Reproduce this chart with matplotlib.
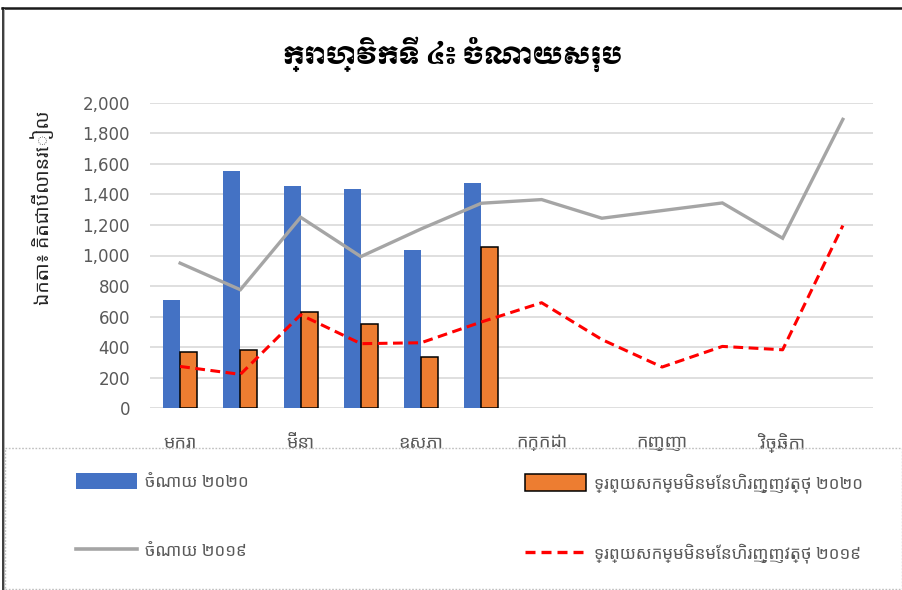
import matplotlib
matplotlib.use("Agg")
import matplotlib.pyplot as plt
from matplotlib import font_manager as fm
from matplotlib.font_manager import FontProperties
from matplotlib.lines import Line2D
from matplotlib.patches import Patch, Rectangle
import numpy as np

# ---------------- data ----------------
months = ["មករា", "កុម្ភៈ", "មីនា", "មេសា", "ឧសភា", "មិថុនា",
          "កក្កដា", "សីហា", "កញ្ញា", "តុលា", "វិច្ឆិកា", "ធ្នូ"]
exp_2020 = [710, 1555, 1455, 1435, 1035, 1475]
nfa_2020 = [367, 380, 630, 553, 333, 1057]
exp_2019 = [950, 776, 1250, 993, 1174, 1342, 1366, 1244, 1294, 1344, 1113, 1891]
nfa_2019 = [274, 222, 612, 423, 429, 565, 691, 450, 270, 405, 383, 1196]
y_ticks = [0, 200, 400, 600, 800, 1000, 1200, 1400, 1600, 1800, 2000]

title = "ក្រាហ្វិកទី ៤៖ ចំណាយសរុប"
y_label = "ឯកតា៖ គិតជាប៊ីលានរៀល"
lbl_exp2020 = "ចំណាយ ២០២០"
lbl_nfa2020 = "ទ្រព្យសកម្មមិនមែនហិរញ្ញវត្ថុ ២០២០"
lbl_exp2019 = "ចំណាយ ២០១៩"
lbl_nfa2019 = "ទ្រព្យសកម្មមិនមែនហិរញ្ញវត្ថុ ២០១៩"


# ---------------- fonts with Khmer glyphs, if any ----------------
def khmer_fonts():
    try:
        from fontTools.ttLib import TTFont
    except Exception:
        return []
    found = []
    for f in fm.fontManager.ttflist:
        try:
            kw = {"fontNumber": 0} if f.fname.lower().endswith(".ttc") else {}
            tt = TTFont(f.fname, lazy=True, **kw)
            cmap = tt.getBestCmap()
            if cmap and 0x1780 in cmap and 0x17D2 in cmap:
                found.append(f)
        except Exception:
            continue
    return found


def wnum(w):
    if isinstance(w, (int, float)):
        return w
    return fm.weight_dict.get(str(w), 400)


kfonts = khmer_fonts()
kh = None
title_fp = None
if kfonts:
    names = [f.name for f in kfonts]
    for pref in ("Khmer OS", "Noto Sans Khmer", "Noto Serif Khmer"):
        if pref in names:
            kh = pref
            break
    if kh is None:
        kh = names[0]
    moul = [f for f in kfonts if "moul" in f.name.lower() or "muol" in f.name.lower()]
    if moul:
        title_fp = FontProperties(fname=moul[0].fname, size=17.5)
    else:
        heavy = max(kfonts, key=lambda f: wnum(f.weight))
        title_fp = FontProperties(fname=heavy.fname, size=17.5, weight="bold")

families = ([kh] if kh else []) + ["DejaVu Sans"]
plt.rcParams["font.family"] = families
if title_fp is None:
    title_fp = FontProperties(family=families, size=17.5, weight="bold")

W, H = 902, 590
fig = plt.figure(figsize=(W / 100, H / 100), dpi=100)


def fx(px):
    return px / W


def fy(py):
    return 1 - py / H


ax = fig.add_axes([fx(150), fy(408.3), fx(873) - fx(150), fy(102.7) - fy(408.3)])

x_all = np.arange(len(months))
x20 = np.arange(len(exp_2020))
bw = 0.282
ax.bar(x20 - bw / 2, exp_2020, width=bw, color="#4472C4", zorder=3)
ax.bar(x20 + bw / 2, nfa_2020, width=bw, color="#ED7D31", edgecolor="black",
       linewidth=1.1, zorder=3)
ax.plot(x_all, exp_2019, color="#A5A5A5", linewidth=2.4, zorder=4,
        solid_joinstyle="miter")
ax.plot(x_all, nfa_2019, color="#FF0000", linewidth=2.2, linestyle=(0, (3.2, 1.8)),
        zorder=5)

ax.set_xlim(-0.5, len(months) - 0.5)
ax.set_ylim(0, 2000)
ax.set_yticks(y_ticks)
ax.set_yticklabels([f"{v:,}" for v in y_ticks], family="DejaVu Sans")
ax.set_xticks(x_all[::2])
ax.set_xticklabels(months[::2])
ax.tick_params(axis="y", length=0, pad=14.4, labelsize=12, labelcolor="#595959")
ax.tick_params(axis="x", length=0, pad=18, labelsize=13, labelcolor="#595959")
ax.yaxis.grid(True, color="#D9D9D9", linewidth=1.2, zorder=0)
ax.set_axisbelow(True)
for s in ax.spines.values():
    s.set_visible(False)

fig.text(fx(453), fy(54), title, ha="center", va="center", fontproperties=title_fp,
         color="black")
fig.text(fx(42), fy(208), y_label, ha="center", va="center", rotation=90,
         fontsize=14, color="#262626")

# legends
h_blue = Patch(facecolor="#4472C4", edgecolor="none")
h_orange = Patch(facecolor="#ED7D31", edgecolor="black", linewidth=1.1)
h_gray = Line2D([], [], color="#A5A5A5", linewidth=2.6)
h_red = Line2D([], [], color="#FF0000", linewidth=2.4, linestyle=(0, (3.0, 1.8)))

common = dict(frameon=False, fontsize=12.2, handlelength=3.6, handleheight=1.1,
              handletextpad=0.5, labelspacing=3.0, borderpad=0, borderaxespad=0,
              loc="upper left", labelcolor="#595959")
leg1 = fig.legend([h_blue, h_gray], [lbl_exp2020, lbl_exp2019],
                  bbox_to_anchor=(fx(76), fy(473)), **common)
leg2 = fig.legend([h_orange, h_red], [lbl_nfa2020, lbl_nfa2019],
                  bbox_to_anchor=(fx(525), fy(473)), **common)

# frame decorations
fig.add_artist(Line2D([fx(2), fx(902)], [fy(8), fy(8)], color="#1a1a1a",
                      linewidth=1.8, transform=fig.transFigure))
fig.add_artist(Line2D([fx(2.5), fx(2.5)], [fy(8), fy(590)], color="#1a1a1a",
                      linewidth=1.2, transform=fig.transFigure))
fig.add_artist(Line2D([fx(4), fx(4)], [fy(9), fy(590)], color="#B0B0B0",
                      linewidth=0.7, transform=fig.transFigure))
fig.add_artist(Rectangle((fx(5), fy(589)), fx(902) - fx(5), fy(448) - fy(589),
                         fill=False, edgecolor="#BFBFBF", linewidth=1.0,
                         linestyle=(0, (1.2, 1.2)), transform=fig.transFigure))

fig.savefig("out.png", dpi=100)
